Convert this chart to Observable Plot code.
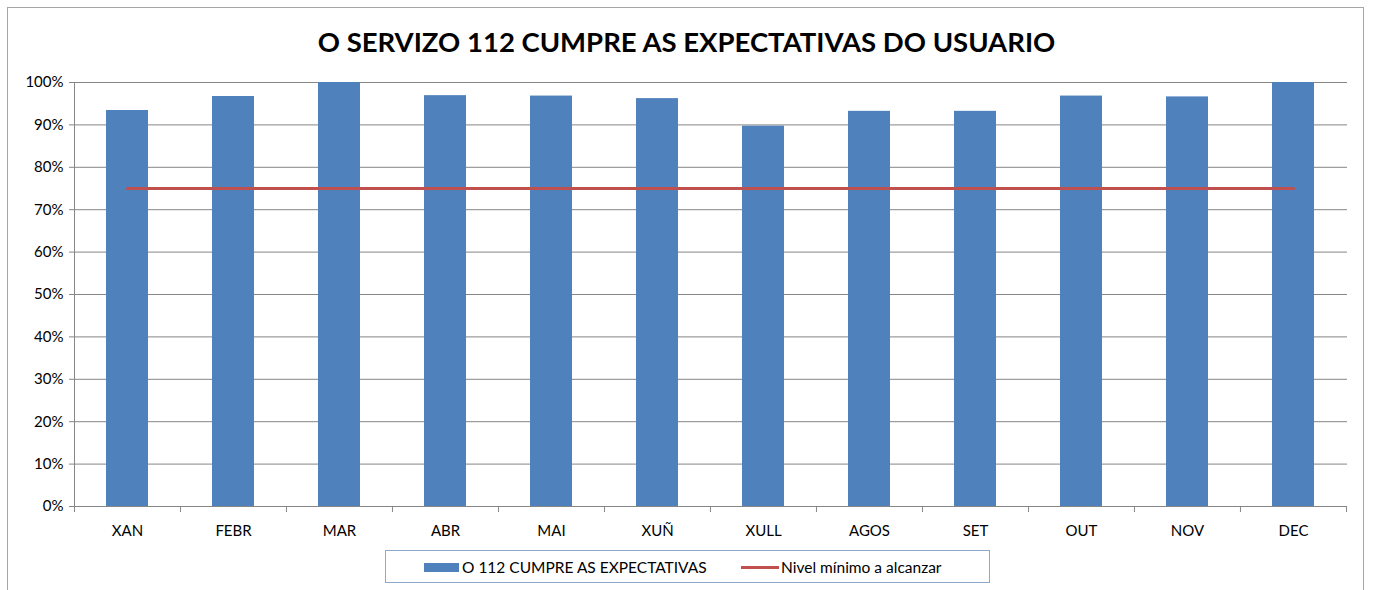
<!DOCTYPE html>
<html>
<head>
<meta charset="utf-8">
<script src="https://cdn.jsdelivr.net/npm/d3@7"></script>
<script src="https://cdn.jsdelivr.net/npm/@observablehq/plot@0.6"></script>
<style>
  html, body { margin: 0; padding: 0; background: #fff; }
  #wrap { position: relative; width: 1373px; height: 590px; overflow: hidden; font-family: Lato, "Open Sans", sans-serif; }
  #outer { position: absolute; left: 7px; top: 7px; width: 1357px; height: 600px; border: 1px solid #a6a6a6; box-sizing: border-box; }
  #title { position: absolute; left: 0; width: 1373px; top: 25px; text-align: center; font-weight: bold; font-size: 27.5px; color: #000; }
  #chart { position: absolute; left: 0; top: 60px; }
  #legend { position: absolute; left: 385px; top: 550px; width: 605px; height: 33px; border: 1px solid #8eaacb; box-sizing: border-box; font-size: 15.5px; color: #000; }
  .sw { position: absolute; }
  .lt { position: absolute; top: 7px; white-space: nowrap; }
</style>
</head>
<body>
<div id="wrap">
  <div id="outer"></div>
  <div id="title">O SERVIZO 112 CUMPRE AS EXPECTATIVAS DO USUARIO</div>
  <div id="chart"></div>
  <div id="legend">
    <div class="sw" style="left:38px; top:12px; width:35px; height:9px; background:#4F81BD;"></div>
    <div class="lt" style="left:76px;">O 112 CUMPRE AS EXPECTATIVAS</div>
    <div class="sw" style="left:355px; top:15px; width:38px; height:3px; background:#C0504D;"></div>
    <div class="lt" style="left:395px;">Nivel mínimo a alcanzar</div>
  </div>
</div>
<script>
const months = ["XAN","FEBR","MAR","ABR","MAI","XUÑ","XULL","AGOS","SET","OUT","NOV","DEC"];
const cumpre = [0.934, 0.967, 1.0, 0.969, 0.968, 0.962, 0.897, 0.932, 0.932, 0.968, 0.966, 1.0];
const nivelMinimo = [0.75, 0.75, 0.75, 0.75, 0.75, 0.75, 0.75, 0.75, 0.75, 0.75, 0.75, 0.75];
const yTicks = [0, 0.1, 0.2, 0.3, 0.4, 0.5, 0.6, 0.7, 0.8, 0.9, 1.0];

const data = months.map((m, i) => ({month: m, value: cumpre[i], target: nivelMinimo[i]}));

const W = 1373, H = 486, mL = 74, mR = 26, mT = 22, mB = 40;
const step = (W - mL - mR) / months.length;
const gray = "#868686";

const chart = Plot.plot({
  width: W, height: H,
  marginLeft: mL, marginRight: mR, marginTop: mT, marginBottom: mB,
  style: {fontFamily: "Lato, 'Open Sans', sans-serif", fontSize: "15px", color: "#000", background: "transparent"},
  x: {domain: months, type: "band", paddingInner: 0.6, paddingOuter: 0.3, label: null},
  y: {domain: [0, 1], label: null},
  marks: [
    Plot.gridY(yTicks, {stroke: gray, strokeOpacity: 1, strokeWidth: 1}),
    Plot.barY(data, {x: "month", y: "value", fill: "#4F81BD"}),
    Plot.lineY(data, {x: "month", y: "target", stroke: "#C0504D", strokeWidth: 3}),
    Plot.ruleY([0], {stroke: gray}),
    Plot.frame({anchor: "left", stroke: gray}),
    Plot.ruleX(months, {x: d => d, y1: 0, y2: 0, insetBottom: -6, dx: -step / 2, stroke: gray}),
    Plot.ruleX([months[months.length - 1]], {x: d => d, y1: 0, y2: 0, insetBottom: -6, dx: step / 2, stroke: gray}),
    Plot.axisY(yTicks, {tickFormat: d3.format(".0%"), tickSize: 5, tickPadding: 6, stroke: gray, fill: "#000", fontSize: 15}),
    Plot.axisX({tickSize: 0, tickPadding: 19, fontSize: 15, fill: "#000"})
  ]
});
document.getElementById("chart").appendChild(chart);
</script>
</body>
</html>
